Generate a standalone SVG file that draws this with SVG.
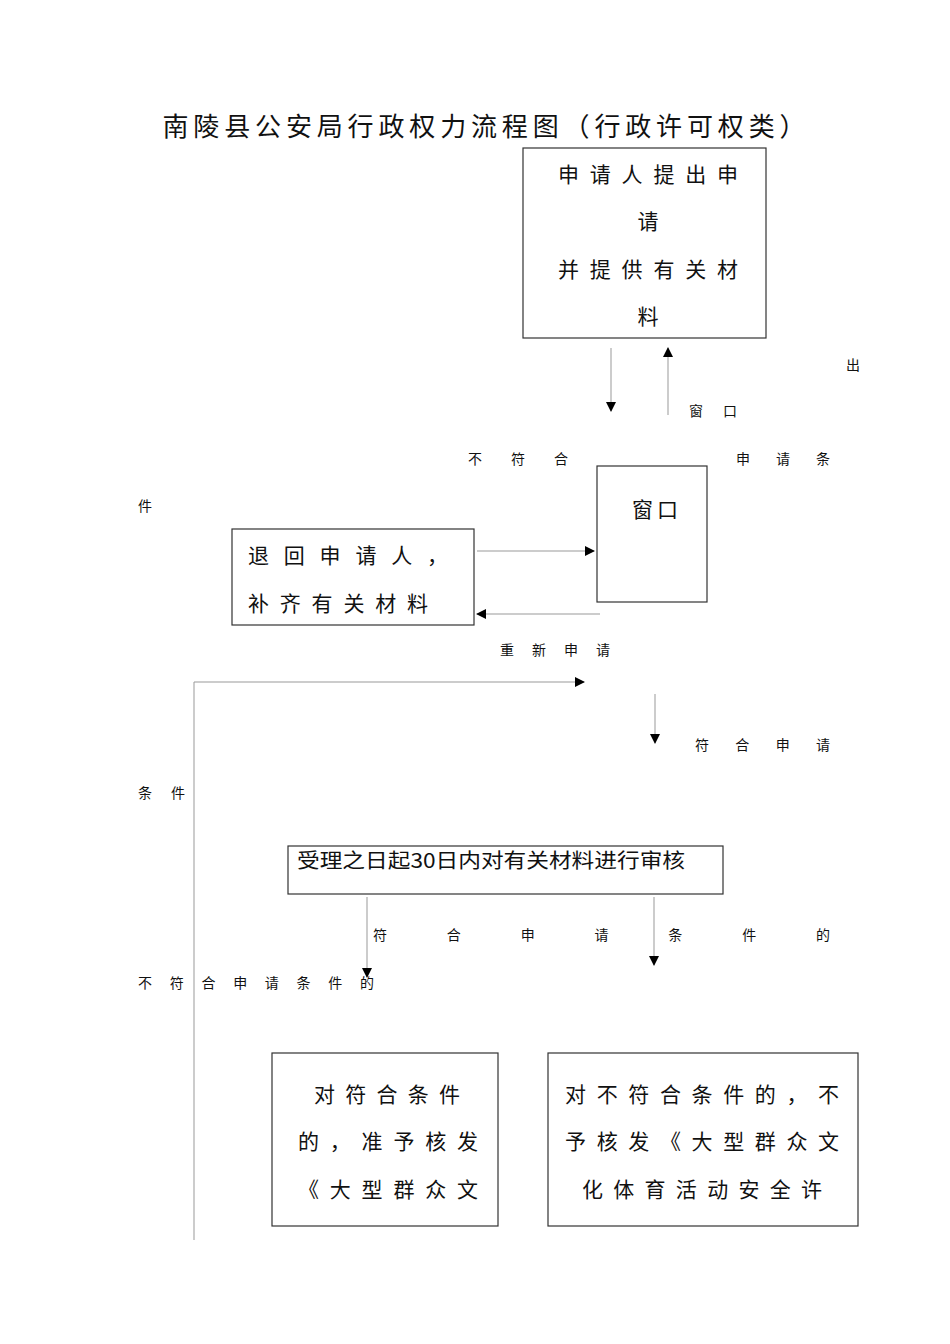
<svg xmlns="http://www.w3.org/2000/svg" width="950" height="1344" viewBox="0 0 950 1344">
<style>
text{font-family:"Noto Sans CJK SC","Liberation Sans",sans-serif;fill:#111}
.s{font-size:14px}
.m{font-size:21px}
.box{fill:#fff;stroke:#333;stroke-width:1.2}
.ln{stroke:#999;stroke-width:1;fill:none}
</style>
<defs><marker id="a" markerWidth="10" markerHeight="10" refX="9" refY="5" orient="auto" markerUnits="userSpaceOnUse"><path d="M0,0L10,5L0,10z" fill="#000"/></marker></defs>
<rect width="950" height="1344" fill="#fff"/>
<text x="484" y="136" font-size="26" text-anchor="middle" textLength="643" lengthAdjust="spacing">南陵县公安局行政权力流程图（行政许可权类）</text>
<g id="connectors">
<line class="ln" x1="611" y1="348" x2="611" y2="411" marker-end="url(#a)"/>
<line class="ln" x1="668" y1="415" x2="668" y2="348" marker-end="url(#a)"/>
<line class="ln" x1="477" y1="551" x2="594" y2="551" marker-end="url(#a)"/>
<line class="ln" x1="600" y1="614" x2="477" y2="614" marker-end="url(#a)"/>
<polyline class="ln" points="194,1240 194,682 584,682" marker-end="url(#a)"/>
<line class="ln" x1="655" y1="694" x2="655" y2="743" marker-end="url(#a)"/>
<line class="ln" x1="367" y1="897" x2="367" y2="977" marker-end="url(#a)"/>
<line class="ln" x1="654" y1="897" x2="654" y2="965" marker-end="url(#a)"/>
</g>
<g id="labels">
<text class="s" x="846" y="370">出</text>
<text class="s" x="689" y="416" textLength="48" lengthAdjust="spacing">窗口</text>
<text class="s" x="468" y="464" textLength="100" lengthAdjust="spacing">不符合</text>
<text class="s" x="736" y="464" textLength="94" lengthAdjust="spacing">申请条</text>
<text class="s" x="138" y="511">件</text>
<text class="s" x="500" y="655" textLength="110" lengthAdjust="spacing">重新申请</text>
<text class="s" x="695" y="750" textLength="135" lengthAdjust="spacing">符合申请</text>
<text class="s" x="138" y="798" textLength="47" lengthAdjust="spacing">条件</text>
<text class="s" x="373" y="940" textLength="457" lengthAdjust="spacing">符合申请条件的</text>
<text class="s" x="138" y="988" textLength="236" lengthAdjust="spacing">不符合申请条件的</text>
</g>
<g id="n1"><rect class="box" x="523" y="148" width="243" height="190"/>
<text class="m" x="558" y="182" textLength="180" lengthAdjust="spacing">申请人提出申</text>
<text class="m" x="648" y="229" text-anchor="middle">请</text>
<text class="m" x="558" y="277" textLength="180" lengthAdjust="spacing">并提供有关材</text>
<text class="m" x="648" y="324" text-anchor="middle">料</text></g>
<g id="n2"><rect class="box" x="597" y="466" width="110" height="136"/>
<text class="m" x="632" y="517" textLength="46" lengthAdjust="spacing">窗口</text></g>
<g id="n3"><rect class="box" x="232" y="529" width="242" height="96"/>
<text class="m" x="248" y="563" textLength="200" lengthAdjust="spacing">退回申请人，</text>
<text class="m" x="248" y="611" textLength="180" lengthAdjust="spacing">补齐有关材料</text></g>
<g id="n4"><rect class="box" x="288" y="846" width="435" height="48"/>
<text x="297" y="868" font-size="20" textLength="388" lengthAdjust="spacingAndGlyphs">受理之日起30日内对有关材料进行审核</text></g>
<g id="n5"><rect class="box" x="272" y="1053" width="226" height="173"/>
<text class="m" x="314" y="1102" textLength="146" lengthAdjust="spacing">对符合条件</text>
<text class="m" x="298" y="1149" textLength="180" lengthAdjust="spacing">的，准予核发</text>
<text class="m" x="298" y="1197" textLength="180" lengthAdjust="spacing">《大型群众文</text></g>
<g id="n6"><rect class="box" x="548" y="1053" width="310" height="173"/>
<text class="m" x="565" y="1102" textLength="274" lengthAdjust="spacing">对不符合条件的，不</text>
<text class="m" x="565" y="1149" textLength="274" lengthAdjust="spacing">予核发《大型群众文</text>
<text class="m" x="582" y="1197" textLength="240" lengthAdjust="spacing">化体育活动安全许</text></g>
</svg>
